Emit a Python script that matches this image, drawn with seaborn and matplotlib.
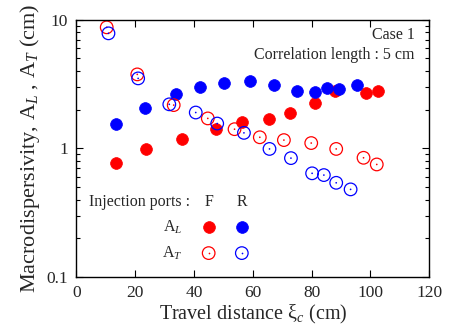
import numpy as np
import pandas as pd
import matplotlib
matplotlib.use("Agg")
import matplotlib.pyplot as plt
import seaborn as sns

# A_L (filled) and A_T (open) for injection ports F (red) and R (blue)
xi_L_F = [13.5, 23.7, 35.8, 47.4, 56.2, 65.5, 72.8, 81.2, 88.1, 98.7, 102.7]
AL_F = [0.77, 0.99, 1.18, 1.41, 1.59, 1.68, 1.89, 2.24, 2.80, 2.71, 2.79]

xi_L_R = [13.4, 23.5, 33.8, 42.0, 50.2, 59.0, 67.3, 74.9, 81.2, 85.2, 89.3, 95.6]
AL_R = [1.56, 2.05, 2.63, 3.01, 3.24, 3.34, 3.12, 2.79, 2.76, 2.93, 2.88, 3.11]

xi_T_F = [10.3, 20.7, 33.1, 44.7, 53.8, 62.4, 70.6, 79.9, 88.4, 97.7, 102.2]
AT_F = [8.73, 3.76, 2.17, 1.71, 1.41, 1.22, 1.16, 1.10, 0.99, 0.845, 0.75]

xi_T_R = [10.9, 21.0, 31.6, 40.6, 47.9, 57.0, 65.7, 73.0, 80.2, 84.2, 88.4, 93.3]
AT_R = [7.84, 3.50, 2.20, 1.90, 1.56, 1.32, 0.99, 0.84, 0.64, 0.62, 0.54, 0.48]

RED = "#ff0000"
BLUE = "#0000ff"

sns.set_style("ticks")
plt.rcParams["font.family"] = ["Liberation Serif", "DejaVu Serif"]
plt.rcParams["mathtext.fontset"] = "custom"
plt.rcParams["mathtext.rm"] = "Liberation Serif"
plt.rcParams["mathtext.it"] = "Liberation Serif:italic"

fig = plt.figure(figsize=(4.55, 3.29), dpi=100)
ax = fig.add_axes([0.168, 0.158, 0.775, 0.782])

S_FILL = 72
S_OPEN = 82

# filled: A_L
sns.scatterplot(x=xi_L_F, y=AL_F, ax=ax, color=RED, edgecolor=RED, s=S_FILL, linewidth=0.5)
sns.scatterplot(x=xi_L_R, y=AL_R, ax=ax, color=BLUE, edgecolor=BLUE, s=S_FILL, linewidth=0.5)
# open: A_T with centre dot
for xs, ys, c in [(xi_T_F, AT_F, RED), (xi_T_R, AT_R, BLUE)]:
    sns.scatterplot(x=xs, y=ys, ax=ax, color=c, facecolor="none", edgecolor=c, s=S_OPEN, linewidth=0.9)
    sns.scatterplot(x=xs, y=ys, ax=ax, color=c, edgecolor="none", s=1.5, linewidth=0)

ax.set_yscale("log")
ax.set_xlim(0, 120)
ax.set_ylim(0.1, 10)
ax.set_xticks([0, 20, 40, 60, 80, 100, 120])
ax.set_yticks([0.1, 1, 10])
ax.set_yticklabels(["0.1", "1", "10"])
ax.tick_params(which="both", direction="in", top=True, right=True, labelsize=12.5, color="black")
ax.tick_params(which="major", length=5, width=0.8, pad=6)
ax.tick_params(which="minor", length=3, width=0.8)
for sp in ax.spines.values():
    sp.set_color("black")
    sp.set_linewidth(1.0)

ax.set_xlabel("Travel distance ξ$_c$ (cm)", fontsize=14.5, labelpad=1)
ax.set_ylabel("Macrodispersivity, A$_L$ , A$_T$ (cm)", fontsize=16, labelpad=3)

ax.text(0.959, 0.942, "Case 1", transform=ax.transAxes, ha="right", va="center", fontsize=11.5)
ax.text(0.959, 0.863, "Correlation length : 5 cm", transform=ax.transAxes, ha="right", va="center", fontsize=11.5)

# key
ax.text(0.036, 0.291, "Injection ports :", transform=ax.transAxes, ha="left", va="center", fontsize=11.5)
ax.text(0.375, 0.291, "F", transform=ax.transAxes, ha="center", va="center", fontsize=11.5)
ax.text(0.469, 0.291, "R", transform=ax.transAxes, ha="center", va="center", fontsize=11.5)
ax.text(0.30, 0.194, "A$_L$", transform=ax.transAxes, ha="right", va="center", fontsize=11.5)
ax.text(0.30, 0.093, "A$_T$", transform=ax.transAxes, ha="right", va="center", fontsize=11.5)
ax.scatter([0.375], [0.194], transform=ax.transAxes, s=S_FILL, color=RED, edgecolor=RED, linewidth=0.5)
ax.scatter([0.469], [0.194], transform=ax.transAxes, s=S_FILL, color=BLUE, edgecolor=BLUE, linewidth=0.5)
for xk, c in [(0.375, RED), (0.469, BLUE)]:
    ax.scatter([xk], [0.093], transform=ax.transAxes, s=S_OPEN, facecolor="none", edgecolor=c, linewidth=0.9)
    ax.scatter([xk], [0.093], transform=ax.transAxes, s=1.5, color=c, linewidth=0)

fig.savefig("out.png", dpi=100)
